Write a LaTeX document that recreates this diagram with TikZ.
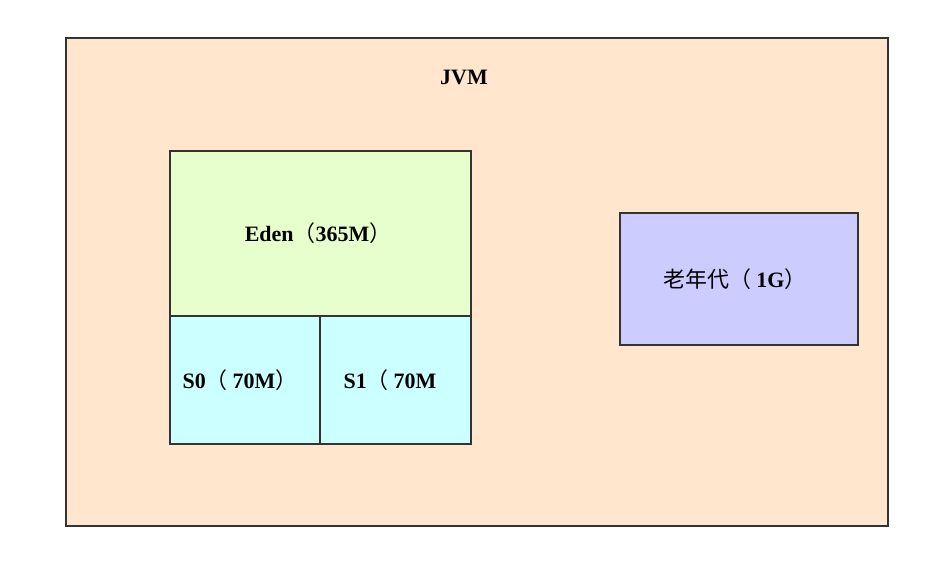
\documentclass[tikz,border=0pt]{standalone}
\usepackage{fontspec}
\setmainfont{Liberation Serif}
\newfontfamily\cjk{Noto Sans CJK SC}
\definecolor{bgc}{HTML}{FFE6CC}
\definecolor{edenc}{HTML}{E6FFCC}
\definecolor{sc}{HTML}{CCFFFF}
\definecolor{oldc}{HTML}{CCCCFF}
\begin{document}
\begin{tikzpicture}[x=0.02cm,y=-0.02cm,
  box/.style={draw=black!80,line width=0.8pt},
  lab/.style={font=\fontsize{12.5}{14}\selectfont\bfseries}]
\useasboundingbox (0,0) rectangle (947,562);
\fill[white] (0,0) rectangle (947,562);
\draw[box,fill=bgc] (66,38) rectangle (888,526);
\node[lab] (jvm) at (464,77) {JVM};
\draw[box,fill=edenc] (170,151) rectangle (471,316);
\node[lab] (eden) at (318,233) {Eden{\cjk\mdseries （}365M{\cjk\mdseries ）}};
\draw[box,fill=sc] (170,316) rectangle (320,444);
\draw[box,fill=sc] (320,316) rectangle (471,444);
\node[lab] (s0) at (240,380) {S0{\cjk\mdseries （ }70M{\cjk\mdseries  ）}};
\node[lab] (s1) at (390,380) {S1{\cjk\mdseries （ }70M};
\draw[box,fill=oldc] (620,213) rectangle (858,345);
\node[lab] (old) at (735,279) {{\cjk\mdseries 老年代（ }1G{\cjk\mdseries  ）}};
\end{tikzpicture}
\end{document}
